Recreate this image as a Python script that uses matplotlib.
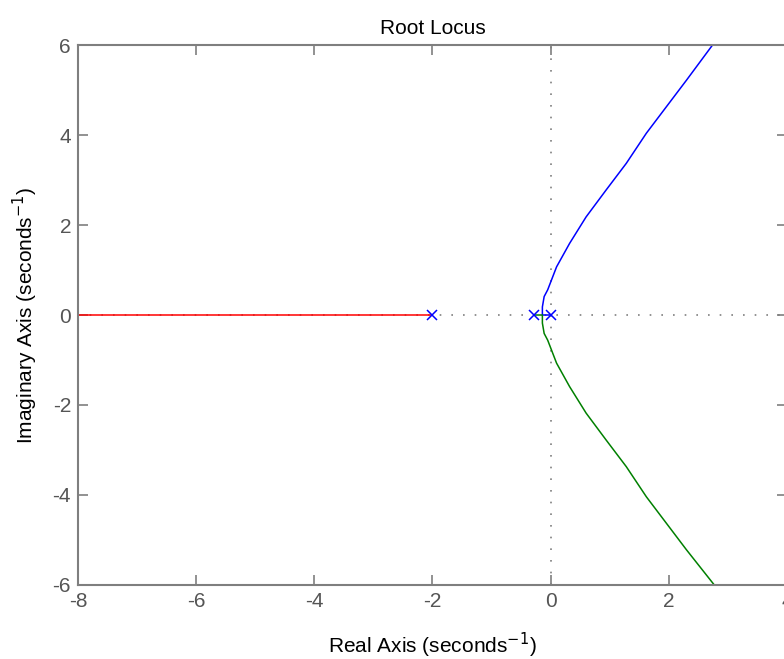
import numpy as np
import matplotlib.pyplot as plt

plt.rcParams['font.family'] = ['Liberation Sans', 'DejaVu Sans']
plt.rcParams['axes.unicode_minus'] = False

# open-loop poles
poles_re = [-2.0, -0.28, 0.0]
poles_im = [0.0, 0.0, 0.0]

# branch leaving the pole at -2 along the negative real axis
red_re = [-2.0, -8.0]
red_im = [0.0, 0.0]

# upper branch (from the pole at the origin)
blue_re = [0.0, -0.14, -0.14, -0.11, -0.05, 0.10, 0.32, 0.60, 0.94, 1.28, 1.62, 1.96, 2.30, 2.74]
blue_im = [0.0, 0.0, 0.18, 0.41, 0.56, 1.07, 1.59, 2.18, 2.78, 3.37, 4.04, 4.63, 5.22, 6.0]

# lower branch (from the pole at -0.28)
green_re = [-0.28, -0.14, -0.14, -0.11, -0.05, 0.10, 0.32, 0.60, 0.94, 1.28, 1.62, 1.96, 2.30, 2.77]
green_im = [0.0, 0.0, -0.18, -0.41, -0.56, -1.07, -1.59, -2.18, -2.78, -3.37, -4.04, -4.63, -5.22, -6.0]

fig = plt.figure(figsize=(7.84, 6.59), dpi=100)
ax = fig.add_axes([0.0995, 0.1123, 0.9043, 0.8194])

gray = '#7f7f7f'
ax.axhline(0, color=gray, linestyle=(0, (1, 6)), linewidth=1.2, zorder=1)
ax.axvline(0, color=gray, linestyle=(0, (1, 6)), linewidth=1.2, zorder=1)

ax.plot(red_re, red_im, color='red', linewidth=1.1)
ax.plot(blue_re, blue_im, color='blue', linewidth=1.1)
ax.plot(green_re, green_im, color='green', linewidth=1.1)
ax.plot(poles_re, poles_im, 'x', color='blue', markersize=7, markeredgewidth=1.1)

ax.set_xlim(-8, 4)
ax.set_ylim(-6, 6)
ax.set_xticks([-8, -6, -4, -2, 0, 2, 4])
ax.set_yticks([-6, -4, -2, 0, 2, 4, 6])

for s in ax.spines.values():
    s.set_color(gray)
    s.set_linewidth(1.5)
ax.tick_params(direction='in', length=7, width=1.2, color=gray, labelcolor='#555555',
               labelsize=15, top=True, right=True, pad=5)

ax.set_title('Root Locus', fontsize=15, pad=8)
ax.set_xlabel('Real Axis (seconds$^{-1}$)', fontsize=15, labelpad=14)
ax.set_ylabel('Imaginary Axis (seconds$^{-1}$)', fontsize=15, labelpad=9)

fig.savefig('out.png', dpi=100)
